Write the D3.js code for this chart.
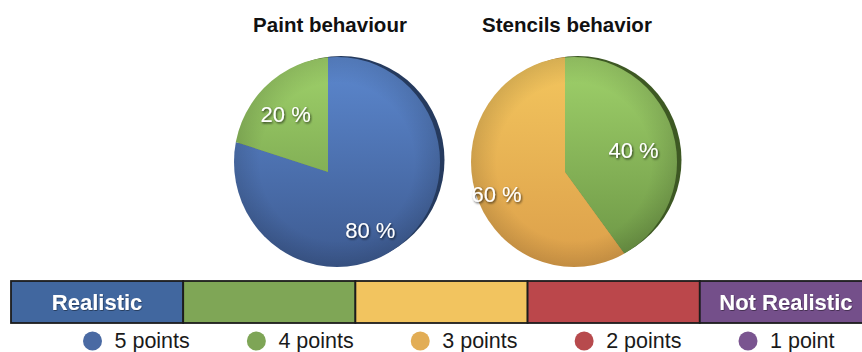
<!DOCTYPE html>
<html>
<head>
<meta charset="utf-8">
<script src="https://cdn.jsdelivr.net/npm/d3@7"></script>
<style>
  html, body { margin: 0; padding: 0; background: #fff; }
  svg { display: block; font-family: "Liberation Sans", Arial, Helvetica, sans-serif; }
</style>
</head>
<body>
<svg id="chart" width="862" height="352"></svg>
<script>
// Rating scale, from best to worst
const scoreLevels = ["5 points", "4 points", "3 points", "2 points", "1 point"];
const scaleEnds = ["Realistic", "", "", "", "Not Realistic"];

// Survey shares (%) per rating level
const pieTitles = ["Paint behaviour", "Stencils behavior"];
const paintShares = [80, 20, 0, 0, 0];
const stencilShares = [0, 40, 60, 0, 0];

// Palette per rating level
const barColors = ["#41679f", "#7fa656", "#f2c45f", "#bb474b", "#744f8a"];
const dotColors = ["#4a6aa3", "#7ea556", "#e2ad55", "#b74a4d", "#7a5590"];
const sliceTop = ["#5c88cf", "#a0d26b", "#f3c65e", "#c85a5c", "#8a63a0"];
const sliceBottom = ["#3d5a90", "#6b9444", "#dc9f4a", "#a63c40", "#6a4580"];
const rimColors = ["#253a5e", "#3d5823", "#9a6a28", "#6a2426", "#432a52"];

const svg = d3.select("#chart");
const defs = svg.append("defs");

const textShadow = defs.append("filter").attr("id", "txtShadow")
  .attr("x", "-20%").attr("y", "-30%").attr("width", "140%").attr("height", "160%");
textShadow.append("feDropShadow").attr("dx", 1).attr("dy", 1.3)
  .attr("stdDeviation", 1).attr("flood-color", "#000").attr("flood-opacity", 0.7);

const barShadow = defs.append("filter").attr("id", "barTxtShadow")
  .attr("x", "-10%").attr("y", "-30%").attr("width", "120%").attr("height", "160%");
barShadow.append("feDropShadow").attr("dx", 0.6).attr("dy", 0.8)
  .attr("stdDeviation", 0.6).attr("flood-color", "#000").attr("flood-opacity", 0.5);

// Pie geometry: apex of the slices and the ellipse outline around them
const pies = [
  { title: pieTitles[0], shares: paintShares, apex: [328, 172] },
  { title: pieTitles[1], shares: stencilShares, apex: [565, 172] }
];
const outlineOffset = [9, -10];
const rimOffset = [4, -2];
const radius = 104;

// vertical shading of each slice, in the apex-centred coordinates
scoreLevels.forEach((lvl, i) => {
  const g = defs.append("linearGradient").attr("id", "slice" + i)
    .attr("gradientUnits", "userSpaceOnUse")
    .attr("x1", 0).attr("y1", -116).attr("x2", 0).attr("y2", 96);
  g.append("stop").attr("offset", "0%").attr("stop-color", sliceTop[i]);
  g.append("stop").attr("offset", "100%").attr("stop-color", sliceBottom[i]);
});

// soft darkening toward the rim
const vignette = defs.append("radialGradient").attr("id", "vignette")
  .attr("cx", "50%").attr("cy", "50%").attr("r", "50%");
vignette.append("stop").attr("offset", "75%").attr("stop-color", "#000").attr("stop-opacity", 0);
vignette.append("stop").attr("offset", "100%").attr("stop-color", "#000").attr("stop-opacity", 0.12);

const pie = d3.pie().sort(null).value(d => d.value);
const bigArc = d3.arc().innerRadius(0).outerRadius(150);
const labelArc = d3.arc().innerRadius(72).outerRadius(72);

pies.forEach((p, k) => {
  const data = scoreLevels.map((lvl, i) => ({ level: lvl, idx: i, value: p.shares[i] }));
  const arcs = pie(data).filter(a => a.data.value > 0);
  const cx = p.apex[0] + outlineOffset[0];
  const cy = p.apex[1] + outlineOffset[1];

  defs.append("clipPath").attr("id", "rimClip" + k)
    .append("ellipse").attr("cx", cx + rimOffset[0]).attr("cy", cy + rimOffset[1])
    .attr("rx", radius - 0.5).attr("ry", radius);
  defs.append("clipPath").attr("id", "pieClip" + k)
    .append("ellipse").attr("cx", cx).attr("cy", cy)
    .attr("rx", radius - 1).attr("ry", radius + 1);

  // darker rim giving the pie some depth
  svg.append("g").attr("clip-path", `url(#rimClip${k})`)
    .append("g").attr("transform", `translate(${p.apex[0]},${p.apex[1]})`)
    .selectAll("path").data(arcs).join("path")
    .attr("d", bigArc)
    .attr("fill", d => rimColors[d.data.idx]);

  svg.append("g").attr("clip-path", `url(#pieClip${k})`)
    .append("g").attr("transform", `translate(${p.apex[0]},${p.apex[1]})`)
    .selectAll("path").data(arcs).join("path")
    .attr("d", bigArc)
    .attr("fill", d => `url(#slice${d.data.idx})`);

  svg.append("ellipse")
    .attr("cx", cx).attr("cy", cy)
    .attr("rx", radius - 1).attr("ry", radius + 1)
    .attr("fill", "url(#vignette)");

  svg.append("g").attr("transform", `translate(${p.apex[0]},${p.apex[1]})`)
    .selectAll("text").data(arcs).join("text")
    .attr("transform", d => `translate(${labelArc.centroid(d)})`)
    .attr("text-anchor", "middle")
    .attr("dy", "0.36em")
    .attr("fill", "#fff")
    .attr("font-size", 22)
    .attr("filter", "url(#txtShadow)")
    .text(d => `${d.data.value} %`);

  svg.append("text")
    .attr("x", p.apex[0] + 2).attr("y", 32)
    .attr("text-anchor", "middle")
    .attr("font-size", 20.5).attr("font-weight", "bold")
    .attr("fill", "#111")
    .text(p.title);
});

// Rating scale bar
const xBar = d3.scaleBand().domain(scoreLevels).range([11, 872]).padding(0);
const bar = svg.append("g");
bar.selectAll("rect").data(scoreLevels).join("rect")
  .attr("x", d => xBar(d)).attr("y", 281)
  .attr("width", xBar.bandwidth()).attr("height", 42)
  .attr("fill", (d, i) => barColors[i])
  .attr("stroke", "#1c1c1c").attr("stroke-width", 1.8);
bar.selectAll("text").data(scoreLevels).join("text")
  .attr("x", d => xBar(d) + xBar.bandwidth() / 2)
  .attr("y", 310)
  .attr("text-anchor", "middle")
  .attr("font-size", 22).attr("font-weight", "bold")
  .attr("fill", "#fff")
  .attr("filter", "url(#barTxtShadow)")
  .text((d, i) => scaleEnds[i]);

// Legend
const xLegend = d3.scalePoint().domain(scoreLevels).range([92.5, 748]);
const legend = svg.append("g").selectAll("g").data(scoreLevels).join("g")
  .attr("transform", d => `translate(${xLegend(d)},341)`);
legend.append("circle").attr("r", 9.5).attr("fill", (d, i) => dotColors[i]);
legend.append("text").attr("x", 22).attr("y", 7)
  .attr("font-size", 21.5).attr("fill", "#1a1a1a")
  .text(d => d);
</script>
</body>
</html>
